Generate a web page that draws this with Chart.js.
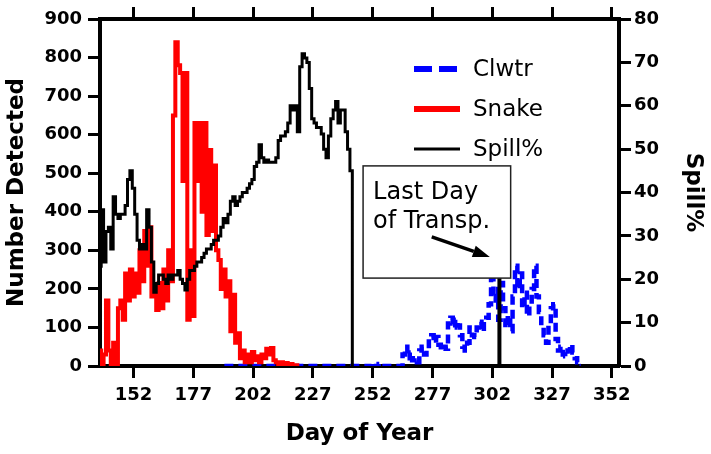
<!DOCTYPE html>
<html>
<head>
<meta charset="utf-8">
<script src="https://cdn.jsdelivr.net/npm/chart.js@4.4.0/dist/chart.umd.min.js"></script>
<style>
  html, body { margin: 0; padding: 0; background: #fff; }
  #wrap { width: 711px; height: 454px; }
</style>
</head>
<body>
<div id="wrap"><canvas id="myChart" width="711" height="454"></canvas></div>
<script>
// daily values
const snakeStart = 138;
const snakeCounts = [
  40, 0, 30, 170, 40, 0, 60, 0, 150, 170,
  120, 240, 170, 250, 180, 240, 190, 300, 220, 350,
  260, 360, 180, 210, 145, 215, 150, 250, 170, 300,
  220, 650, 840, 780, 760, 480, 760, 120, 300, 130,
  630, 480, 630, 400, 630, 340, 560, 350, 520, 300,
  275, 200, 250, 180, 220, 90, 185, 60, 85, 20,
  40, 10, 30, 10, 36, 15, 25, 10, 30, 20,
  45, 30, 47, 15, 10, 5, 10, 3, 8, 3,
  5, 0, 2, 0
];

const clwtrStart = 190;
const clwtrCounts = [
  0, 0, 0, 0, 0, 0, 0, 0, 0, 0,
  0, 0, 0, 0, 0, 0, 0, 0, 0, 0,
  0, 0, 0, 0, 0, 0, 0, 0, 0, 0,
  0, 0, 0, 0, 0, 0, 0, 0, 0, 0,
  0, 0, 0, 0, 0, 0, 0, 0, 0, 0,
  0, 0, 0, 0, 0, 0, 0, 0, 0, 0,
  0, 0, 8, 0, 0, 5, 0, 0, 0, 0,
  0, 0, 0, 0, 0,
  30, 50, 20, 35, 15, 20, 10, 40, 50, 30,
  45, 70, 80, 60, 75, 55, 40, 50, 45, 110,
  125, 100, 120, 105, 80, 50, 40, 60, 100, 80,
  75, 100, 115, 90, 120, 125, 160, 245, 170, 200,
  120, 215, 150, 100, 130, 90, 180, 260, 200, 240,
  150, 190, 130, 160, 200, 260, 180, 140, 100, 80,
  60, 110, 150, 160, 70, 40, 50, 30, 25, 40,
  55, 35, 20, 10, 0
];

const spillStart = 138;
const spillPct = [
  23, 36, 24, 31, 32, 27, 39, 35, 34, 35,
  35, 37, 43, 45, 41, 35, 29, 27, 28, 27,
  36, 32, 24, 17, 19, 21, 21, 20, 19, 21,
  20, 21, 21, 22, 20, 19, 17.5, 20, 22, 22,
  23, 24, 24, 25, 26, 27, 27, 28, 29, 29,
  30, 32, 34, 33, 35, 38, 39, 37, 38, 39,
  40, 40, 41, 42, 43, 46, 47, 51, 48, 47,
  47.5, 47, 47, 47, 48, 52, 53, 53, 54, 56,
  60, 59, 60, 54, 69, 72, 71, 70, 64, 57,
  56, 55, 55, 53.5, 50, 48, 53, 57, 59, 61,
  56, 59, 59, 54, 50, 45, 0
];

// last day of transportation marker
const transpDay = 305;
const transpTop = 36;

const xTicks = [152, 177, 202, 227, 252, 277, 302, 327, 352];
const xMin = 138, xMax = 355;

// text box, in data units of the left axis
const note = { x0: 248, x1: 309.7, y0: 228, y1: 519,
  lines: ['Last Day', 'of Transp.'],
  arrowFrom: [276.7, 335], arrowTo: [301, 283] };

const FONT = "'DejaVu Sans', sans-serif";

const toPoints = (start, arr) => arr.map((v, i) => ({ x: start + i, y: v }));

const legendPlugin = {
  id: 'insideLegend',
  afterDraw(chart) {
    const ctx = chart.ctx;
    const a = chart.chartArea;
    const items = chart.data.datasets.filter(d => d.label);
    items.sort((p, q) => p.legendRank - q.legendRank);
    const x0 = a.left + 314, y0 = a.top + 50;
    ctx.save();
    ctx.font = '23px ' + FONT;
    ctx.textBaseline = 'middle';
    ctx.fillStyle = '#000';
    items.forEach((d, i) => {
      const y = y0 + i * 40;
      ctx.beginPath();
      ctx.strokeStyle = d.borderColor;
      ctx.lineWidth = d.legendWidth;
      ctx.setLineDash(d.legendDash || []);
      ctx.moveTo(x0, y);
      ctx.lineTo(x0 + 46, y);
      ctx.stroke();
      ctx.setLineDash([]);
      ctx.fillText(d.label, x0 + 59, y + 1);
    });
    ctx.restore();
  }
};

const notePlugin = {
  id: 'noteBox',
  afterDraw(chart) {
    const ctx = chart.ctx;
    const xs = chart.scales.x, ys = chart.scales.y;
    const l = xs.getPixelForValue(note.x0), r = xs.getPixelForValue(note.x1);
    const t = ys.getPixelForValue(note.y1), b = ys.getPixelForValue(note.y0);
    ctx.save();
    ctx.fillStyle = '#fff';
    ctx.fillRect(l, t, r - l, b - t);
    ctx.strokeStyle = '#222';
    ctx.lineWidth = 1.5;
    ctx.strokeRect(l, t, r - l, b - t);
    ctx.fillStyle = '#000';
    ctx.font = '24px ' + FONT;
    ctx.textBaseline = 'alphabetic';
    note.lines.forEach((s, i) => ctx.fillText(s, l + 10, t + 33 + i * 29));
    // arrow
    const ax = xs.getPixelForValue(note.arrowFrom[0]), ay = ys.getPixelForValue(note.arrowFrom[1]);
    const bx = xs.getPixelForValue(note.arrowTo[0]), by = ys.getPixelForValue(note.arrowTo[1]);
    const ang = Math.atan2(by - ay, bx - ax);
    const hl = 17, hw = 6;
    const hx = bx - hl * Math.cos(ang), hy = by - hl * Math.sin(ang);
    ctx.strokeStyle = '#000';
    ctx.lineWidth = 3.5;
    ctx.beginPath();
    ctx.moveTo(ax, ay);
    ctx.lineTo(hx, hy);
    ctx.stroke();
    ctx.beginPath();
    ctx.moveTo(bx, by);
    ctx.lineTo(hx + hw * Math.sin(ang), hy - hw * Math.cos(ang));
    ctx.lineTo(hx - hw * Math.sin(ang), hy + hw * Math.cos(ang));
    ctx.closePath();
    ctx.fill();
    ctx.restore();
  }
};

const tickFont = { family: FONT, size: 18, weight: 'bold' };
const titleFont = { family: FONT, size: 23, weight: 'bold' };
const axisGrid = { drawOnChartArea: false, tickLength: 12, tickWidth: 3, tickColor: '#000' };
const axisBorder = { color: '#000', width: 4 };

new Chart(document.getElementById('myChart').getContext('2d'), {
  type: 'line',
  data: {
    datasets: [{
      label: 'Spill%',
      data: toPoints(spillStart, spillPct),
      yAxisID: 'y2',
      borderColor: '#000',
      borderWidth: 3,
      stepped: 'middle',
      legendWidth: 3,
      legendRank: 2,
      order: 0
    }, {
      label: '',
      data: [{ x: transpDay, y: 0 }, { x: transpDay, y: transpTop }],
      yAxisID: 'y2',
      borderColor: '#000',
      borderWidth: 4,
      order: 1
    }, {
      label: 'Snake',
      data: toPoints(snakeStart, snakeCounts),
      yAxisID: 'y',
      borderColor: '#ff0000',
      borderWidth: 4,
      stepped: 'middle',
      legendWidth: 6,
      legendRank: 1,
      order: 2
    }, {
      label: 'Clwtr',
      data: toPoints(clwtrStart, clwtrCounts),
      yAxisID: 'y',
      borderColor: '#0000ff',
      borderWidth: 4.5,
      borderDash: [9, 5],
      stepped: 'middle',
      legendDash: [18, 7],
      legendWidth: 6,
      legendRank: 0,
      order: 3
    }]
  },
  options: {
    responsive: false,
    animation: false,
    devicePixelRatio: 1,
    elements: {
      point: { radius: 0 },
      line: { tension: 0, borderJoinStyle: 'miter', fill: false }
    },
    layout: { padding: 0 },
    plugins: { legend: { display: false }, tooltip: { enabled: false } },
    scales: {
      x: {
        type: 'linear', position: 'bottom', min: xMin, max: xMax,
        afterBuildTicks: s => { s.ticks = xTicks.map(v => ({ value: v })); },
        afterFit: s => { s.height = 88; },
        border: axisBorder, grid: axisGrid,
        ticks: { color: '#000', font: tickFont, padding: 7, maxRotation: 0, autoSkip: false },
        title: { display: true, text: 'Day of Year', color: '#000', font: titleFont, padding: { top: 0, bottom: 6 } }
      },
      x2: {
        type: 'linear', position: 'top', min: xMin, max: xMax,
        afterBuildTicks: s => { s.ticks = xTicks.map(v => ({ value: v })); },
        afterFit: s => { s.height = 19; },
        border: axisBorder, grid: axisGrid,
        ticks: { display: false }
      },
      y: {
        type: 'linear', position: 'left', min: 0, max: 900,
        afterFit: s => { s.width = 100; },
        border: axisBorder, grid: axisGrid,
        ticks: { stepSize: 100, color: '#000', font: tickFont, padding: 6 },
        title: { display: true, text: 'Number Detected', color: '#000', font: titleFont, padding: { top: 3, bottom: 0 } }
      },
      y2: {
        type: 'linear', position: 'right', min: 0, max: 80,
        afterFit: s => { s.width = 92; },
        border: axisBorder, grid: axisGrid,
        ticks: { stepSize: 10, color: '#000', font: tickFont, padding: 3 },
        title: { display: true, text: 'Spill%', color: '#000', font: titleFont, padding: { top: 4, bottom: 0 } }
      }
    }
  },
  plugins: [notePlugin, legendPlugin]
});
</script>
</body>
</html>
